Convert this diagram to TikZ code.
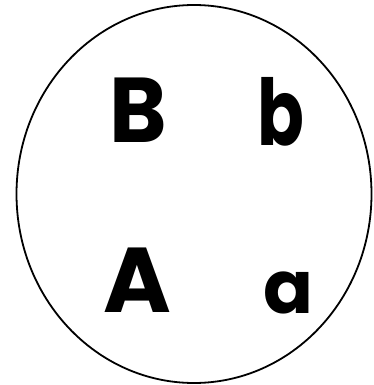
\documentclass[tikz,border=0pt]{standalone}
\usepackage{fontspec}
\setmainfont{Poppins}[BoldFont={* Bold}]
\begin{document}
\begin{tikzpicture}[x=1pt,y=-1pt,
  letter/.style={inner sep=0pt,anchor=base,font=\fontsize{92}{92}\selectfont\bfseries}]
\useasboundingbox (0,0) rectangle (373,385);
\draw[line width=1.8pt] (194,194) ellipse [x radius=177.5, y radius=189];
\node[letter,xscale=0.95] (B) at (138,142) {B};
\node[letter,xscale=0.75] (b) at (281,145) {b};
\node[letter] (A) at (137,312) {A};
\node[letter,scale=0.8] (a) at (288,313) {a};
\end{tikzpicture}
\end{document}
